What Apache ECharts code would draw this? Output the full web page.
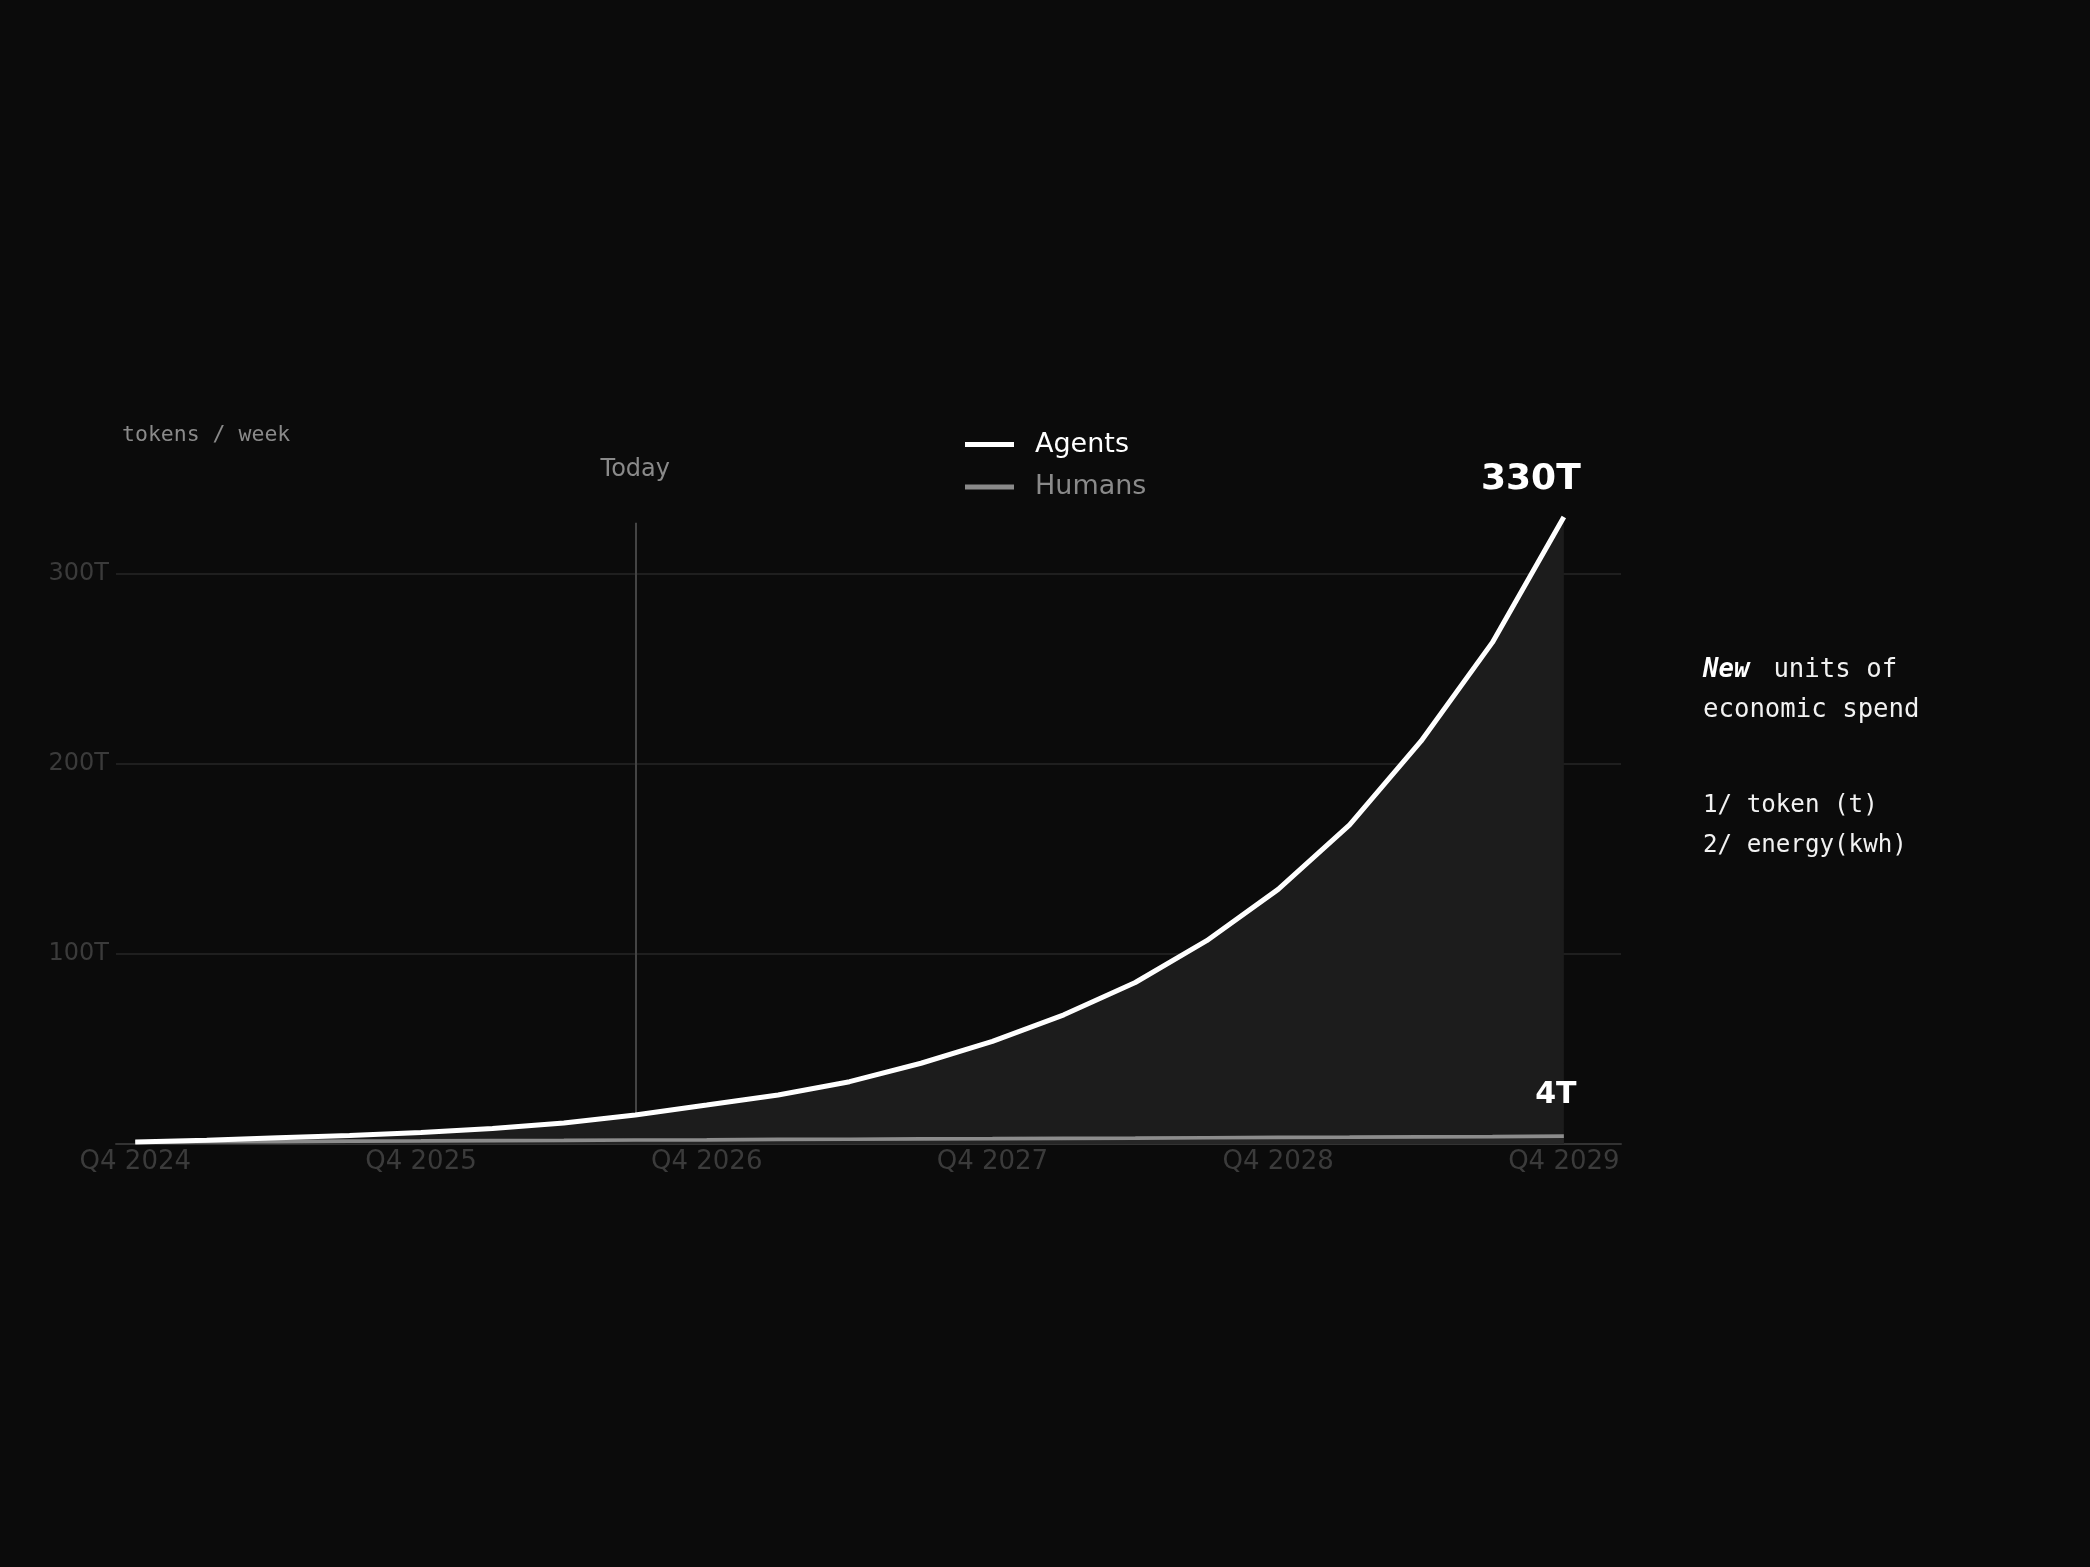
<!DOCTYPE html>
<html>
<head>
<meta charset="utf-8">
<script src="https://cdn.jsdelivr.net/npm/echarts@6.0.0/dist/echarts.min.js"></script>
<style>
  html, body { margin: 0; padding: 0; background: #0b0b0b; }
  #chart { width: 2090px; height: 1567px; }
</style>
</head>
<body>
<div id="chart"></div>
<script>
const quarters = ['Q4 2024', 'Q1 2025', 'Q2 2025', 'Q3 2025', 'Q4 2025', 'Q1 2026', 'Q2 2026', 'Q3 2026',
  'Q4 2026', 'Q1 2027', 'Q2 2027', 'Q3 2027', 'Q4 2027', 'Q1 2028', 'Q2 2028', 'Q3 2028', 'Q4 2028',
  'Q1 2029', 'Q2 2029', 'Q3 2029', 'Q4 2029'];
const xTickLabels = ['Q4 2024', 'Q4 2025', 'Q4 2026', 'Q4 2027', 'Q4 2028', 'Q4 2029'];
const yTickValues = [100, 200, 300];
// tokens / week, in trillions
const agents = [1, 2, 3.3, 4.5, 6, 8.2, 11, 15.3, 20.5, 25.8, 32.8, 42.5, 54, 68, 85, 107, 134, 168, 212, 264, 330];
const humans = [1, 1.2, 1.3, 1.5, 1.6, 1.8, 1.9, 2.1, 2.2, 2.4, 2.5, 2.7, 2.8, 3, 3.1, 3.3, 3.5, 3.6, 3.8, 3.9, 4.1];
const todayQuarter = 'Q3 2026';
const todayTop = 327;
const noteHead = ['{em|New}units of', 'economic spend'];
const noteUnits = ['1/ token (t)', '2/ energy(kwh)'];

const toPoints = (vals) => vals.map((v, i) => [i, v]);
const todayIdx = quarters.indexOf(todayQuarter);
const mono = '"DejaVu Sans Mono", monospace';

const chart = echarts.init(document.getElementById('chart'), null, { renderer: 'canvas' });

const endLabel = (size, offset) => ({
  show: true,
  formatter: (p) => `${Math.round(p.value[1])}T`,
  color: '#ffffff',
  fontSize: size,
  fontWeight: 'bold',
  align: 'center',
  verticalAlign: 'middle',
  distance: 0,
  offset
});

const option = {
  backgroundColor: '#0b0b0b',
  animation: false,
  textStyle: { fontFamily: '"DejaVu Sans", sans-serif' },
  grid: { left: 116, right: 469, top: 517, bottom: 423 },
  legend: {
    orient: 'vertical',
    left: 960,
    top: 426,
    itemGap: 15.5,
    icon: 'rect',
    itemWidth: 49,
    itemHeight: 5,
    textStyle: { fontSize: 27, padding: [0, 0, 0, 16] },
    data: [
      { name: 'Agents', textStyle: { color: '#ffffff' } },
      { name: 'Humans', textStyle: { color: '#8a8a8a' } }
    ]
  },
  xAxis: {
    type: 'value',
    min: -0.27,
    max: 20.8,
    axisLine: { lineStyle: { color: '#333333', width: 2 } },
    axisTick: { show: false },
    splitLine: { show: false },
    axisLabel: {
      customValues: xTickLabels.map((q) => quarters.indexOf(q)),
      formatter: (v) => quarters[v],
      color: '#3b3b3b',
      fontSize: 26,
      margin: 5
    }
  },
  yAxis: {
    type: 'value',
    min: 0,
    max: 330,
    axisLine: { show: false },
    axisTick: { show: false, customValues: yTickValues },
    splitLine: { lineStyle: { color: '#1f1f1f', width: 2 } },
    axisLabel: {
      customValues: yTickValues,
      formatter: (v) => `${v}T`,
      color: '#3b3b3b',
      fontSize: 24,
      margin: 7,
      padding: [5, 0, 0, 0]
    }
  },
  series: [
    {
      name: 'Agents area',
      type: 'line',
      z: 2,
      data: toPoints(agents),
      showSymbol: false,
      lineStyle: { width: 0 },
      areaStyle: { color: '#1c1c1c', opacity: 1 },
      markLine: {
        z: 1,
        silent: true,
        symbol: 'none',
        lineStyle: { color: '#444444', width: 2, type: 'solid' },
        label: {
          show: true,
          position: 'end',
          formatter: 'Today',
          color: '#8a8a8a',
          fontSize: 24,
          distance: 41
        },
        data: [[{ coord: [todayIdx, 0] }, { coord: [todayIdx, todayTop] }]]
      }
    },
    {
      name: 'Humans',
      type: 'line',
      z: 3,
      data: toPoints(humans),
      showSymbol: false,
      color: '#8a8a8a',
      lineStyle: { color: '#8c8c8c', width: 3.7 },
      areaStyle: { color: '#262626', opacity: 1 },
      endLabel: endLabel(30, [-8, -41])
    },
    {
      name: 'Agents',
      type: 'line',
      z: 4,
      data: toPoints(agents),
      showSymbol: false,
      color: '#ffffff',
      lineStyle: { color: '#ffffff', width: 5 },
      endLabel: endLabel(36, [-33, -37])
    }
  ],
  graphic: [
    {
      type: 'text',
      x: 122,
      y: 435,
      style: { text: 'tokens / week', fill: '#8a8a8a', font: `21.5px ${mono}`, verticalAlign: 'middle' }
    },
    {
      type: 'text',
      x: 1703,
      y: 690,
      style: {
        text: noteHead.join('\n'),
        fill: '#f2f2f2',
        font: `25.7px ${mono}`,
        lineHeight: 40,
        verticalAlign: 'middle',
        rich: {
          em: {
            fontWeight: 'bold', fontStyle: 'italic', fontFamily: mono, fontSize: 25.7,
            fill: '#ffffff', padding: [0, 24, 0, 0]
          }
        }
      }
    },
    {
      type: 'text',
      x: 1703,
      y: 826,
      style: {
        text: noteUnits.join('\n'),
        fill: '#f2f2f2',
        font: `24.2px ${mono}`,
        lineHeight: 40,
        verticalAlign: 'middle'
      }
    }
  ]
};

chart.setOption(option);
window.addEventListener('resize', chart.resize);
</script>
</body>
</html>
